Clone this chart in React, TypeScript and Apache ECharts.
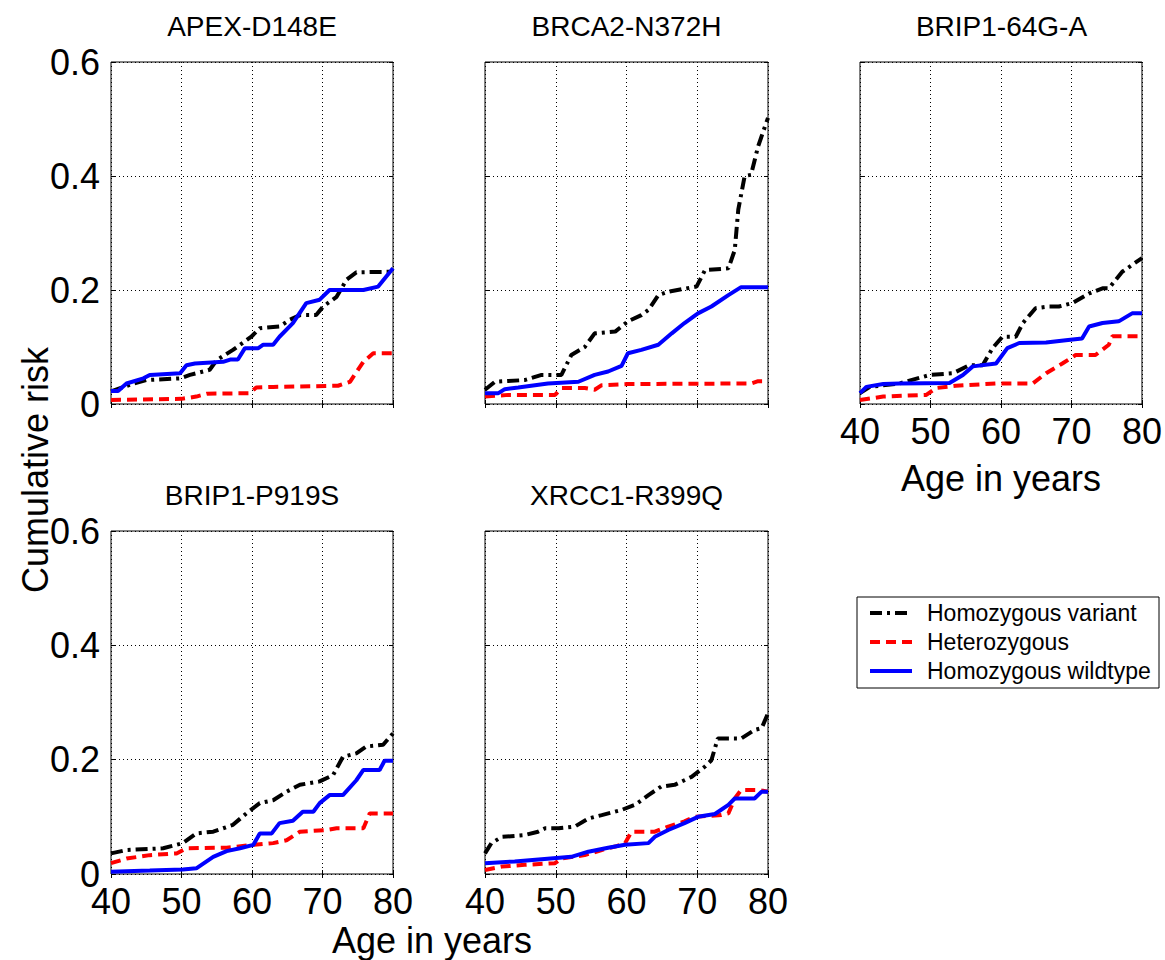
import React, { useEffect, useRef } from "react";
import * as echarts from "echarts";

const FONT = "'Liberation Sans', Arial, Helvetica, sans-serif";

const panelTitles = ["APEX-D148E", "BRCA2-N372H", "BRIP1-64G-A", "BRIP1-P919S", "XRCC1-R399Q"];
const seriesNames = ["Homozygous variant", "Heterozygous", "Homozygous wildtype"];
const xAxisTitle = "Age in years";
const yAxisTitle = "Cumulative risk";
const ageRange = [40, 80];
const ageStep = 10;
const riskRange = [0, 0.6];
const riskStep = 0.2;

// APEX-D148E
const apexVariant = [[40,0.022],[43.2,0.036],[45,0.042],[49.8,0.045],[51.2,0.051],[54,0.06],[55,0.077],[57.3,0.095],[59.9,0.118],[61.1,0.133],[63.9,0.136],[65.4,0.148],[66.8,0.156],[69.1,0.156],[70.1,0.171],[72,0.188],[73.4,0.218],[74.8,0.231],[80,0.232]];
const apexHetero = [[40,0.007],[50,0.009],[52.1,0.013],[53.6,0.018],[59.7,0.019],[60.6,0.029],[63,0.03],[72.2,0.032],[73.9,0.039],[75.8,0.074],[77.2,0.089],[80,0.089]];
const apexWild = [[40,0.023],[41,0.023],[42.2,0.036],[44.6,0.045],[45.5,0.051],[49.8,0.054],[50.7,0.068],[51.9,0.071],[55.9,0.074],[56.9,0.078],[58,0.078],[59,0.098],[60.9,0.098],[61.6,0.104],[63,0.104],[63.9,0.118],[65.8,0.142],[67.7,0.177],[69.6,0.183],[71,0.2],[75.8,0.2],[77.9,0.206],[80,0.238]];

// BRCA2-N372H
const brca2Variant = [[40,0.025],[41.4,0.039],[45.6,0.042],[48,0.051],[50.8,0.051],[52.2,0.086],[54.1,0.1],[55.5,0.124],[58.4,0.127],[60.2,0.145],[62.1,0.156],[63.1,0.165],[64.5,0.191],[65.9,0.197],[69.9,0.206],[71.1,0.235],[74.4,0.238],[75.3,0.27],[75.8,0.341],[76.7,0.4],[77.6,0.402],[78.6,0.452],[80,0.502]];
const brca2Hetero = [[40,0.013],[43.3,0.016],[49.9,0.016],[50.8,0.028],[54.1,0.028],[55.5,0.025],[56.5,0.033],[60.2,0.035],[77.6,0.036],[78.6,0.04],[80,0.04]];
const brca2Wild = [[40,0.019],[41.9,0.019],[42.8,0.026],[44.7,0.029],[48.9,0.036],[53.2,0.039],[55.5,0.051],[57.4,0.057],[59.3,0.067],[60.2,0.089],[62.1,0.095],[64.5,0.104],[66.4,0.124],[68.2,0.142],[70.1,0.159],[72,0.171],[74.4,0.191],[76.2,0.205],[80,0.205]];

// BRIP1-64G-A
const brip64Variant = [[40,0.019],[41.4,0.03],[45.6,0.036],[49.9,0.051],[53.2,0.054],[55.5,0.068],[57.4,0.068],[58.8,0.098],[60.2,0.118],[62.1,0.118],[63.1,0.142],[64.9,0.168],[66.8,0.171],[68.2,0.171],[70.1,0.177],[72.5,0.194],[74.4,0.203],[75.3,0.203],[77.2,0.232],[80,0.256]];
const brip64Hetero = [[40,0.007],[43.3,0.013],[49.4,0.016],[50.8,0.028],[53.6,0.032],[59.3,0.036],[64.5,0.036],[66.4,0.054],[68.7,0.071],[70.6,0.086],[73.4,0.086],[75.3,0.104],[75.8,0.119],[80,0.119]];
const brip64Wild = [[40,0.019],[40.9,0.03],[43.3,0.035],[45.6,0.036],[52.7,0.037],[54.6,0.051],[56,0.066],[59.3,0.071],[60.9,0.098],[62.6,0.107],[66.4,0.108],[69.2,0.112],[71.5,0.115],[72.5,0.136],[74.4,0.142],[76.7,0.145],[78.6,0.159],[80,0.159]];

// BRIP1-P919S
const bripP919Variant = [[40,0.036],[42.2,0.042],[47.4,0.045],[50.2,0.054],[52.1,0.071],[54.5,0.074],[57.3,0.086],[59.2,0.106],[61.1,0.124],[63,0.129],[64.9,0.144],[66.8,0.156],[69.6,0.162],[71.5,0.173],[72.9,0.205],[74.8,0.211],[76.2,0.223],[78.6,0.226],[80,0.246]];
const bripP919Hetero = [[40,0.019],[42.2,0.027],[45.5,0.033],[49.3,0.036],[50.7,0.045],[56.4,0.046],[60.2,0.051],[63,0.054],[64.9,0.059],[66.8,0.074],[70.6,0.077],[72,0.08],[75.8,0.08],[76.7,0.106],[80,0.106]];
const bripP919Wild = [[40,0.004],[45.5,0.006],[50.2,0.008],[52.1,0.01],[54.5,0.03],[56.4,0.04],[58.3,0.045],[60.2,0.051],[61.1,0.071],[62.8,0.071],[63.9,0.089],[65.8,0.093],[67.2,0.109],[68.7,0.109],[69.6,0.124],[71,0.138],[72.9,0.138],[74.8,0.164],[75.8,0.182],[78.1,0.182],[78.8,0.198],[80,0.198]];

// XRCC1-R399Q
const xrccVariant = [[40,0.036],[40.9,0.054],[42.4,0.065],[45.6,0.068],[47.5,0.074],[48.5,0.08],[50.4,0.08],[52.7,0.083],[54.6,0.097],[56.5,0.103],[59.3,0.112],[61.2,0.121],[63.1,0.138],[64.9,0.153],[66.8,0.156],[69.2,0.17],[71.1,0.188],[72,0.199],[72.9,0.237],[76.2,0.237],[78.1,0.252],[79.1,0.255],[80,0.281]];
const xrccHetero = [[40,0.007],[42.4,0.013],[45.6,0.016],[49.9,0.019],[50.8,0.027],[54.1,0.033],[56.5,0.042],[58.4,0.048],[59.8,0.054],[60.7,0.074],[64,0.074],[65.9,0.083],[68.2,0.092],[69.6,0.1],[73.4,0.103],[74.4,0.106],[75.3,0.132],[76.2,0.147],[78.6,0.147],[80,0.144]];
const xrccWild = [[40,0.019],[44.2,0.022],[48,0.026],[52.2,0.03],[54.6,0.039],[57.4,0.046],[59.8,0.051],[63.1,0.054],[64,0.065],[65.9,0.077],[68.2,0.089],[70.1,0.1],[72.5,0.105],[74.4,0.121],[75.3,0.132],[78.1,0.132],[79.1,0.144],[80,0.144]];

const panelData = [
  [apexVariant, apexHetero, apexWild],
  [brca2Variant, brca2Hetero, brca2Wild],
  [brip64Variant, brip64Hetero, brip64Wild],
  [bripP919Variant, bripP919Hetero, bripP919Wild],
  [xrccVariant, xrccHetero, xrccWild],
];

// layout (pixels): left, top, width, height
const panelRects = [
  [111, 62, 282, 342],
  [485, 62, 283, 342],
  [860, 62, 283, 342],
  [111, 531, 282, 343],
  [485, 531, 283, 343],
];
const showXLabels = [false, false, true, true, true];
const showYLabels = [true, false, false, true, false];

const lineStyles = [
  { color: "#000000", width: 4, type: [12, 5, 3, 5], cap: "butt" },
  { color: "#ff0000", width: 4, type: [10, 6], cap: "butt" },
  { color: "#0000ff", width: 4, type: "solid", cap: "butt" },
];

function buildOption() {
  const grid = panelRects.map((r) => ({
    left: r[0], top: r[1], width: r[2], height: r[3],
    show: true, borderColor: "#000", borderWidth: 1, backgroundColor: "#fff",
    containLabel: false,
  }));
  const tickStyle = { show: true, inside: true, length: 4, lineStyle: { color: "#000", width: 1 } };
  const gridLine = { show: true, lineStyle: { color: "#000", width: 1, type: [1, 3] } };
  const labelBase = { fontSize: 36, fontFamily: FONT, color: "#000", showMinLabel: true, showMaxLabel: true };

  const xAxis: any[] = [];
  const yAxis: any[] = [];
  panelRects.forEach((_, i) => {
    xAxis.push({
      gridIndex: i, type: "value", min: ageRange[0], max: ageRange[1], interval: ageStep, position: "bottom",
      axisLine: { show: false }, axisTick: tickStyle,
      axisLabel: { ...labelBase, show: showXLabels[i], margin: 9 },
      splitLine: gridLine,
    });
    xAxis.push({
      gridIndex: i, type: "value", min: ageRange[0], max: ageRange[1], interval: ageStep, position: "top",
      axisLine: { show: false }, axisTick: tickStyle, axisLabel: { show: false }, splitLine: { show: false },
    });
    yAxis.push({
      gridIndex: i, type: "value", min: riskRange[0], max: riskRange[1], interval: riskStep, position: "left",
      axisLine: { show: false }, axisTick: tickStyle,
      axisLabel: {
        ...labelBase, show: showYLabels[i], margin: 11,
        formatter: (v: number) => (Math.abs(v) < 1e-9 ? "0" : v.toFixed(1)),
      },
      splitLine: gridLine,
    });
    yAxis.push({
      gridIndex: i, type: "value", min: riskRange[0], max: riskRange[1], interval: riskStep, position: "right",
      axisLine: { show: false }, axisTick: tickStyle, axisLabel: { show: false }, splitLine: { show: false },
    });
  });

  const series: any[] = [];
  panelData.forEach((group, i) => {
    group.forEach((d, k) => {
      series.push({
        type: "line", name: seriesNames[k], xAxisIndex: 2 * i, yAxisIndex: 2 * i,
        data: d, symbol: "none", showSymbol: false, silent: true, clip: true,
        lineStyle: lineStyles[k], z: 3 + k,
      });
    });
  });

  const txt = (text: string, x: number, y: number, fontSize: number, extra: any = {}) => ({
    type: "text", x, y, silent: true, ...extra,
    style: {
      text, fontSize, fontFamily: FONT, fill: "#000",
      textAlign: "center", textVerticalAlign: "middle", align: "center", verticalAlign: "middle",
    },
  });

  const graphic: any[] = [];
  panelRects.forEach((r, i) => {
    const cy = i < 3 ? 26 : 495;
    graphic.push(txt(panelTitles[i], r[0] + r[2] / 2, cy, 28));
  });
  graphic.push(txt(yAxisTitle, 35, 470, 36, { rotation: Math.PI / 2 }));
  graphic.push(txt(xAxisTitle, 432, 940, 36));
  graphic.push(txt(xAxisTitle, 1001, 478, 36));

  // legend box
  const lgX = 857, lgY = 597, lgW = 302, lgH = 91;
  const rowY = [16, 45, 74];
  const legendChildren: any[] = [
    { type: "rect", shape: { x: 0, y: 0, width: lgW, height: lgH }, style: { fill: "#fff", stroke: "#000", lineWidth: 1 } },
  ];
  seriesNames.forEach((name, k) => {
    const ls = lineStyles[k];
    legendChildren.push({
      type: "line", shape: { x1: 13, y1: rowY[k], x2: 55, y2: rowY[k] },
      style: { stroke: ls.color, lineWidth: ls.width, lineDash: Array.isArray(ls.type) ? ls.type : null, lineCap: "butt" },
    });
    legendChildren.push({
      type: "text", x: 70, y: rowY[k],
      style: { text: name, fontSize: 23, fontFamily: FONT, fill: "#000", textAlign: "left", textVerticalAlign: "middle", align: "left", verticalAlign: "middle" },
    });
  });
  graphic.push({ type: "group", x: lgX, y: lgY, silent: true, children: legendChildren });

  return {
    animation: false,
    backgroundColor: "#fff",
    grid, xAxis, yAxis, series, graphic,
  };
}

export default function App() {
  const ref = useRef<HTMLDivElement>(null);
  useEffect(() => {
    if (!ref.current) return;
    const chart = echarts.init(ref.current, null, { renderer: "svg" });
    chart.setOption(buildOption() as any);
    return () => chart.dispose();
  }, []);
  return (
    <div
      ref={ref}
      style={{ position: "fixed", left: 0, top: 0, width: 1165, height: 960, background: "#fff" }}
    />
  );
}
